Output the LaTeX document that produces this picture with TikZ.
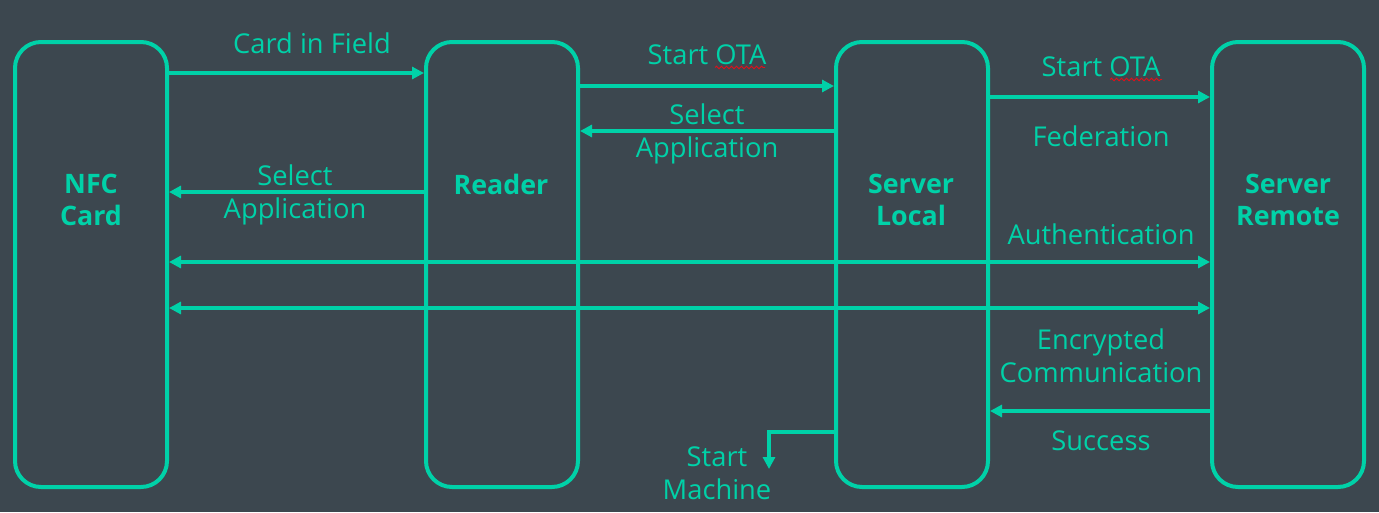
\documentclass[tikz,border=0pt]{standalone}
\usepackage{fontspec}
\setmainfont{Open Sans}
\usetikzlibrary{arrows.meta,decorations.pathmorphing}
\definecolor{bg}{HTML}{3C474F}
\definecolor{teal}{HTML}{00D1A8}
\definecolor{squig}{HTML}{E0101A}
\begin{document}
\begin{tikzpicture}[x=1pt,y=-1pt,
  actor/.style={draw=teal,line width=4pt,rounded corners=26pt,minimum width=152pt,minimum height=445pt,inner sep=0pt},
  actorlabel/.style={text=teal,font=\fontsize{26.8}{32}\selectfont\bfseries,align=center,inner sep=0pt},
  msg/.style={text=teal,font=\fontsize{27.3}{32.5}\selectfont,align=center,inner sep=0pt},
  arr/.style={draw=teal,line width=4pt,-{Triangle[length=12pt,width=12pt]}},
  darr/.style={draw=teal,line width=4pt,{Triangle[length=12pt,width=12pt]}-{Triangle[length=12pt,width=12pt]}},
  squiggle/.style={draw=squig,line width=0.9pt,decorate,decoration={snake,amplitude=1.3pt,segment length=5pt}}]
\fill[bg] (0,0) rectangle (1379,512);
\useasboundingbox (0,0) rectangle (1379,512);
% actors
\node[actor] (card) at (91,264.5) {};
\node[actor] (reader) at (502,264.5) {};
\node[actor] (local) at (912,264.5) {};
\node[actor] (remote) at (1288,264.5) {};
\node[actorlabel] (cardl) at (91,200) {NFC\\Card};
\node[actorlabel] (readerl) at (501,184) {Reader};
\node[actorlabel] (locall) at (911,200) {Server\\Local};
\node[actorlabel] (remotel) at (1288,200) {Server\\Remote};
% messages
\draw[arr] (card.east |- 0,73) -- (reader.west |- 0,73);
\node[msg,anchor=base] (m1) at (312,53) {Card in Field};
\draw[arr] (reader.east |- 0,86) -- (local.west |- 0,86);
\node[msg,anchor=base] (m2) at (707,64) {Start OTA};
\draw[squiggle] (715,67.5) -- (765,67.5);
\draw[arr] (local.west |- 0,131) -- (reader.east |- 0,131);
\node[msg] (m3) at (707,134) {Select\\Application};
\draw[arr] (reader.west |- 0,192) -- (card.east |- 0,192);
\node[msg] (m4) at (295,195) {Select\\Application};
\draw[arr] (local.east |- 0,97) -- (remote.west |- 0,97);
\node[msg,anchor=base] (m5) at (1101,76) {Start OTA};
\draw[squiggle] (1110,79.5) -- (1162,79.5);
\node[msg,anchor=base] (m6) at (1101,146) {Federation};
\node[msg,anchor=base] (m7) at (1101,244) {Authentication};
\draw[darr] (card.east |- 0,262) -- (remote.west |- 0,262);
\draw[darr] (card.east |- 0,308) -- (remote.west |- 0,308);
\node[msg] (m8) at (1101,356) {Encrypted\\Communication};
\draw[arr] (remote.west |- 0,411) -- (local.east |- 0,411);
\node[msg,anchor=base] (m9) at (1101,450) {Success};
\coordinate (sm) at (769,469);
\draw[arr] (local.west |- 0,432) -| (sm);
\node[msg] (m10) at (717,473) {Start\\Machine};
\end{tikzpicture}
\end{document}
